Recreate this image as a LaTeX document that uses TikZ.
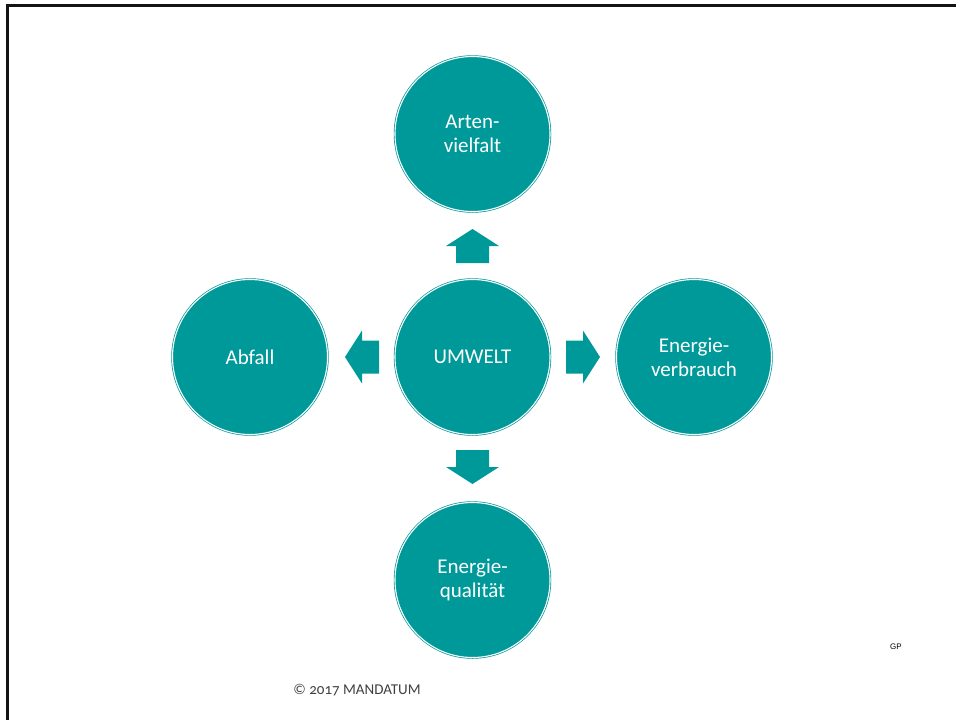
\documentclass[tikz,border=0pt]{standalone}
\usepackage{fontspec}
\setmainfont{Carlito}
\newfontfamily\gpfont{Liberation Sans}
\newfontfamily\cpfont[Numbers=OldStyle]{Carlito}
\definecolor{tl}{RGB}{0,153,153}
\definecolor{bordergray}{RGB}{20,20,20}
\definecolor{cpgray}{RGB}{64,64,64}
\tikzset{
  topic/.style={circle, minimum size=155pt, inner sep=0pt, fill=tl, draw=tl,
    double=white, double distance=1.1pt, line width=0.7pt, text=white,
    align=center, font=\fontsize{21}{24}\selectfont},
  blockarr/.pic={\fill[tl] (0,-16.5) -- (17,-16.5) -- (17,-26.5) -- (34,0) -- (17,26.5) -- (17,16.5) -- (0,16.5) -- cycle;}
}
\begin{document}
\begin{tikzpicture}[x=1pt,y=-1pt]
\useasboundingbox (0,0) rectangle (956,720);
\draw[bordergray, line width=3pt] (7,720) -- (7,5) -- (956,5);
\node[topic] (c) at (472.5,357) {UMWELT};
\node[topic] (t) at (472.5,134) {Arten-\\vielfalt};
\node[topic] (l) at (250,357) {Abfall};
\node[topic] (r) at (694,357) {Energie-\\verbrauch};
\node[topic] (b) at (472.5,580) {Energie-\\qualität};
\pic[rotate=90] at (472.5,263) {blockarr};
\pic[rotate=-90] at (472.5,450) {blockarr};
\pic[rotate=180] at (379,357) {blockarr};
\pic at (566,357) {blockarr};
\node[text=cpgray, font=\cpfont\fontsize{15}{18}\selectfont] (cp) at (357,690) {© 2017 MANDATUM};
\node[text=black, font=\gpfont\fontsize{8}{10}\selectfont] (gp) at (896,647) {GP};
\end{tikzpicture}
\end{document}
